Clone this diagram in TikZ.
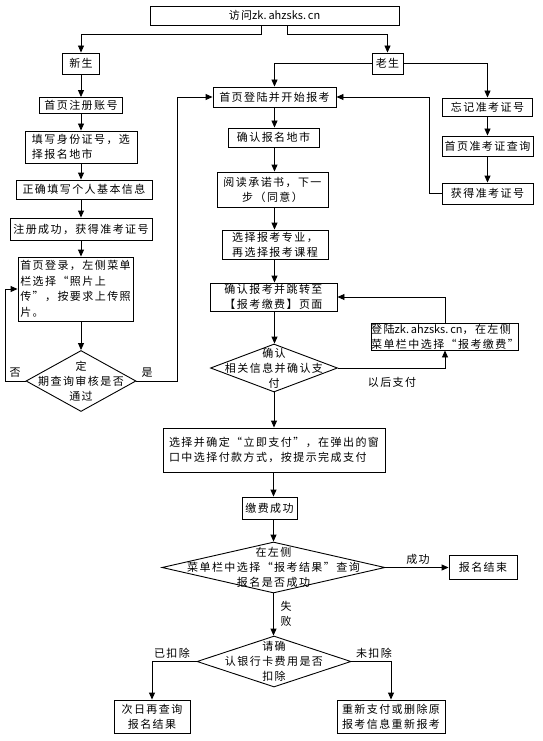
\documentclass[tikz,border=0pt]{standalone}
\usepackage{fontspec}
\setmainfont{Noto Sans CJK SC}
\usetikzlibrary{arrows.meta,shapes.geometric,calc}
\newcommand\latn[1]{{\addfontfeature{LetterSpace=0}#1}}
\begin{document}
\begin{tikzpicture}[x=1pt,y=-1pt,
  every node/.style={font=\fontsize{11}{15}\selectfont\addfontfeature{LetterSpace=13}},
  box/.style={draw,line width=0.9pt,inner sep=0pt,align=center},
  lbox/.style={box,align=left},
  dia/.style={draw,diamond,line width=0.9pt,inner sep=0pt},
  arr/.style={line width=0.9pt,-{Triangle[length=7pt,width=6pt]}},
  lab/.style={inner sep=0pt,align=center}]
\useasboundingbox (0,0) rectangle (542,741);
\fill[white] (0,0) rectangle (542,741);
% top
\node[box,minimum width=249pt,minimum height=19pt] (top) at (274.5,15.5) {访问\latn{zk.\,ahzsks.\,cn}};
\node[box,minimum width=37pt,minimum height=21pt] (xin) at (81,63.5) {新生};
\node[box,minimum width=31pt,minimum height=21pt] (lao) at (387.5,63.5) {老生};
% left column
\node[box,minimum width=83pt,minimum height=16pt] (zhuce) at (81,105.5) {首页注册账号};
\node[lbox,minimum width=112pt,minimum height=32pt] (tianxie) at (81,147) {填写身份证号，选\\择报名地市\hphantom{号，选}};
\node[box,minimum width=136pt,minimum height=19pt] (zhengque) at (84,189.5) {正确填写个人基本信息};
\node[box,minimum width=142pt,minimum height=22pt] (chenggong) at (81,229) {注册成功，获得准考证号};
\node[lbox,minimum width=115pt,minimum height=64pt,font=\fontsize{11}{15.6}\selectfont\addfontfeature{LetterSpace=13}] (sydl) at (75.5,289) {首页登录，左侧菜单\\栏选择“照片上\hphantom{传照}\\传”，按要求上传照\\片。\hphantom{按要求上传照}};
\node[dia,minimum width=110pt,minimum height=61pt] (d1) at (81,381) {};
\node[lab] (d1t) at (d1.center) {定\\期查询审核是否\\通过};
% middle column
\node[box,minimum width=123pt,minimum height=20pt] (denglu) at (274.5,97) {首页登陆并开始报考};
\node[box,minimum width=91pt,minimum height=19pt] (queren) at (273.5,137.5) {确认报名地市};
\node[box,minimum width=111pt,minimum height=35pt] (yuedu) at (272.5,189.5) {阅读承诺书，下一\\步（同意）};
\node[box,minimum width=106pt,minimum height=29pt] (xuanze) at (275,244.5) {选择报考专业，\\再选择报考课程};
\node[lbox,minimum width=127pt,minimum height=28pt] (tiaozhuan) at (273.5,297) {确认报考并跳转至\\【报考缴费】页面};
\node[lbox,minimum width=146pt,minimum height=27pt] (denglu2) at (445,336.5) {登陆\latn{zk.\,ahzsks.\,cn}，在左侧\\菜单栏中选择“报考缴费”};
\node[dia,minimum width=127pt,minimum height=48pt] (d2) at (274,368) {};
\node[lab] (d2t) at (d2.center) {确认\\相关信息并确认支\\付};
\node[lbox,minimum width=222pt,minimum height=44pt] (zhifu) at (274,450) {选择并确定“立即支付”，在弹出的窗\\口中选择付款方式，按提示完成支付};
\node[box,minimum width=55pt,minimum height=22pt] (jiaofei) at (269.5,508) {缴费成功};
\node[dia,minimum width=223pt,minimum height=51pt] (d3) at (273.5,567.5) {};
\node[lab] (d3t) at (d3.center) {在左侧\\菜单栏中选择“报考结果”查询\\报名是否成功};
\node[box,minimum width=68pt,minimum height=24pt] (jieshu) at (483,567) {报名结束};
\node[dia,minimum width=154pt,minimum height=51pt] (d4) at (274,661.5) {};
\node[lab] (d4t) at (d4.center) {请确\\认银行卡费用是否\\扣除};
\node[box,minimum width=76pt,minimum height=33pt] (ciri) at (152,716.5) {次日再查询\\报名结果};
\node[box,minimum width=108pt,minimum height=33pt] (chongxin) at (391,716.5) {重新支付或删除原\\报考信息重新报考};
% right column
\node[box,minimum width=90pt,minimum height=18pt] (wangji) at (487.5,107) {忘记准考证号};
\node[box,minimum width=91pt,minimum height=20pt] (chaxun) at (487.5,146) {首页准考证查询};
\node[box,minimum width=91pt,minimum height=21pt] (huode) at (487.5,193.5) {获得准考证号};
% labels
\node[lab] (lfou) at (15,373) {否};
\node[lab] (lshi) at (147,373) {是};
\node[lab] (lyh) at (392,382) {以后支付};
\node[lab] (lcg) at (418,559) {成功};
\node[lab] (lsb) at (286,613.5) {失\\败};
\node[lab] (lyk) at (172,653) {已扣除};
\node[lab] (lwk) at (374,653) {未扣除};
% connectors
\draw[arr] ([xshift=-13.5pt]top.south) -- ++(0,9) -| (xin.north);
\draw[arr] ([xshift=12.5pt]top.south) -- ++(0,9) -| (lao.north);
\draw[arr] (xin.south) -- (xin.south |- zhuce.north);
\draw[arr] (xin.south |- zhuce.south) -- (xin.south |- tianxie.north);
\draw[arr] (xin.south |- tianxie.south) -- (xin.south |- zhengque.north);
\draw[arr] (xin.south |- zhengque.south) -- (xin.south |- chenggong.north);
\draw[arr] (xin.south |- chenggong.south) -- (xin.south |- sydl.north);
\draw[arr] (xin.south |- sydl.south) -- (d1.north);
\draw[arr] (d1.west) -- ++(-20,0) |- (sydl.west);
\draw[arr] (d1.east) -- ++(41,0) |- (denglu.west);
\draw[arr] (lao.west) -| (denglu.north);
\draw[arr] (lao.east) -| (wangji.north);
\draw[arr] (wangji.south) -- (wangji.south |- chaxun.north);
\draw[arr] (wangji.south |- chaxun.south) -- (wangji.south |- huode.north);
\draw[arr] (huode.west) -- ++(-12,0) |- (denglu.east);
\draw[arr] (denglu.south) -- (denglu.south |- queren.north);
\draw[arr] (denglu.south |- queren.south) -- (denglu.south |- yuedu.north);
\draw[arr] (denglu.south |- yuedu.south) -- (denglu.south |- xuanze.north);
\draw[arr] (denglu.south |- xuanze.south) -- (denglu.south |- tiaozhuan.north);
\draw[arr] (denglu.south |- tiaozhuan.south) -- (denglu.south |- d2.north);
\draw[arr] (d2.east) -| (denglu2.south);
\draw[arr] (denglu2.north) |- (tiaozhuan.east);
\draw[arr] (d2.south) -- (d2.south |- zhifu.north);
\draw[arr] (d3.north |- zhifu.south) -- (d3.north |- jiaofei.north);
\draw[arr] (d3.north |- jiaofei.south) -- (d3.north);
\draw[arr] (d3.east) -- (d3.east -| jieshu.west);
\draw[arr] (d3.south) -- (d3.south |- d4.north);
\draw[arr] (d4.west) -| (ciri.north);
\draw[arr] (d4.east) -| (chongxin.north);
\end{tikzpicture}
\end{document}
